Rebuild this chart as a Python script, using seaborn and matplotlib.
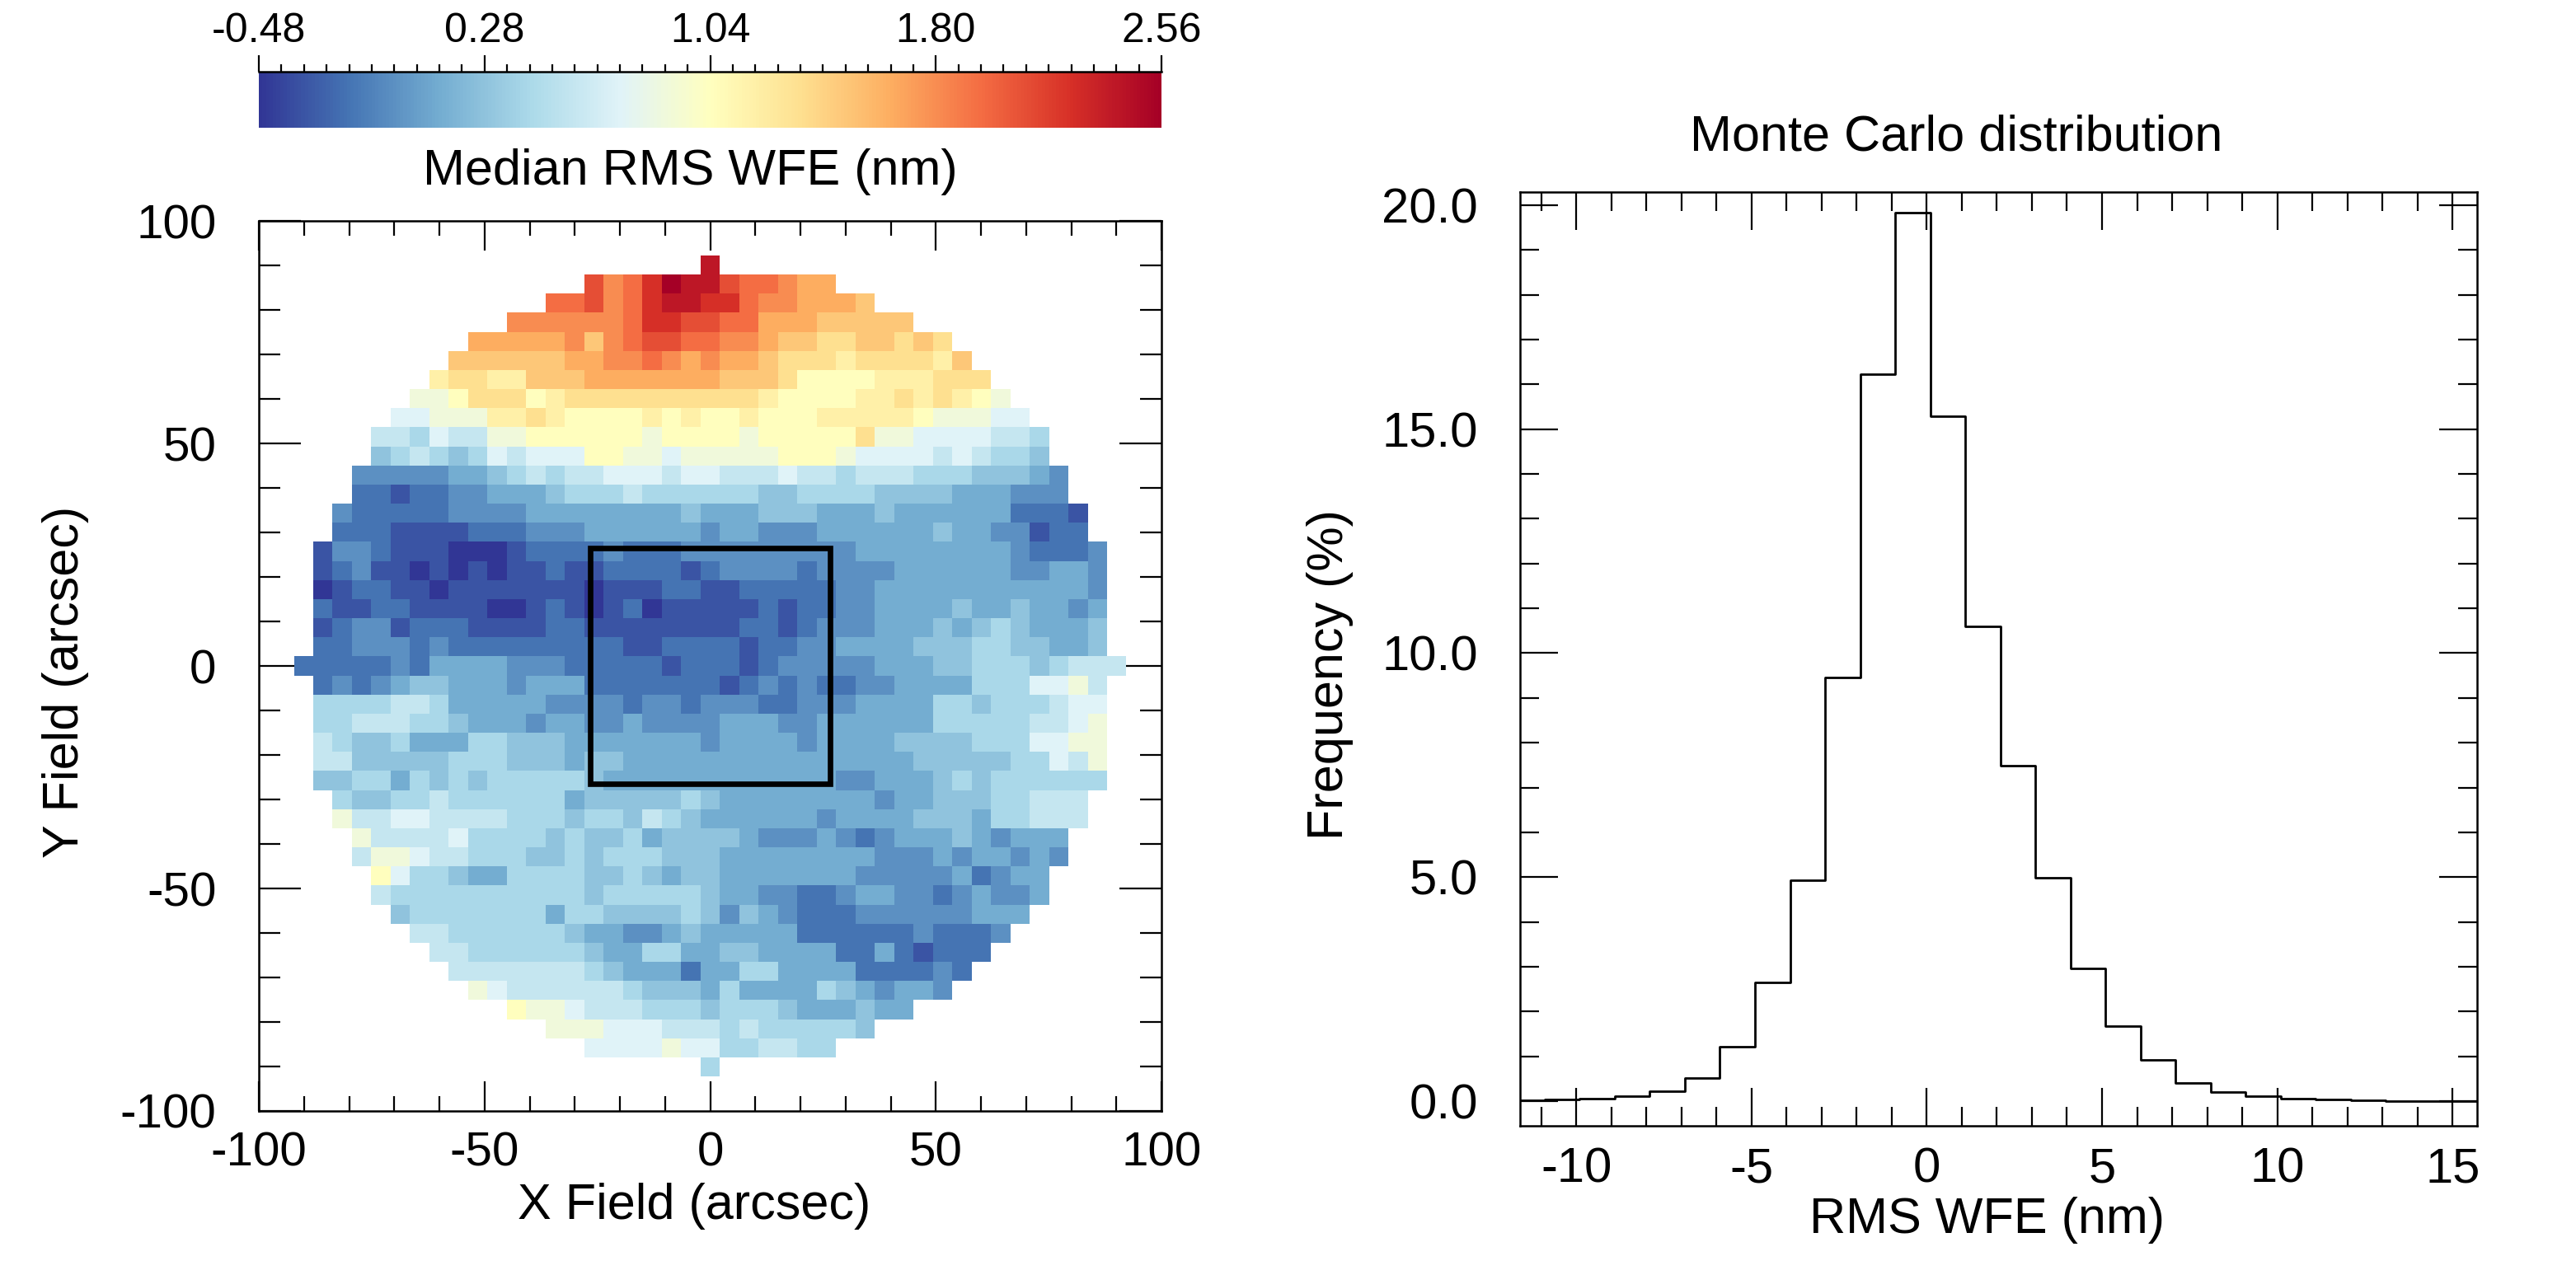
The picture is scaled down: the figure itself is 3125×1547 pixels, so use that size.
import numpy as np
import pandas as pd
import matplotlib
matplotlib.use("Agg")
import matplotlib.pyplot as plt
from matplotlib.patches import Rectangle
from matplotlib.ticker import FixedLocator, MultipleLocator, FormatStrFormatter
import seaborn as sns

sns.set_theme(style="white")
plt.rcParams["font.family"] = ["Liberation Sans", "DejaVu Sans"]
plt.rcParams["axes.unicode_minus"] = False
for k in ["text.color", "axes.labelcolor", "xtick.color", "ytick.color", "axes.edgecolor"]:
    plt.rcParams[k] = "black"

# ---------------- data ----------------
# Median RMS WFE map: each character is a colour level
# ('0' = -0.48 nm ... 'k' = 2.56 nm, 21 levels), '.' = no data.
wfe_min, wfe_max = -0.48, 2.56
wfe_codes = "0123456789abcdefghijk"
wfe_rows = [
    "j",
    "hfgikjjhggfee",
    "gghfgijjiigffeeed",
    "ffffffgiihhggeeeddddd",
    "eeeeefdfghhggffeddccddcdc",
    "ddddddeeffgfefeedcccbccccbd",
    "bccbbdddeeeeeeedddcaaaabbbccc",
    "99acccabccccccccccbaaaabbcbcba9",
    "88999bbcbaaaababaabaaabbbbba99988",
    "77687799aaaaaa9aaaa9aaaaac998888776",
    "56765687888aa99899999aaa98888787665",
    "3333344567677888788777877677766655543",
    "2212233444566676666665566665555444333",
    "322222333344444444544455544454444442221",
    "222111122233344444434433344444454433122",
    "13321110001222232223333333334444444432223",
    "12311010101121122221233332333344444433443",
    "01221101111111011122112222233444444444443",
    "21122111100121012011111212233444454454434",
    "12331222111122111111112212333444545654445",
    "22333232222222221122221223344445556655445",
    "2222232444433322222122212333334445566656777",
    "23234554443444222222212323223344446668897",
    "66667764444433332332333223334444665666788",
    "66777665444344334333344433444444666667789",
    "76556444665554444444344443444455556668899",
    "77555556665554554444444444444445555566879",
    "55664656566666544444444444433444565666666",
    "655667666666455555654444444434455566777",
    "977887777666566576544444434444555466777",
    "9777786666565564555543334323444543444",
    "7998776665565666555444444443334344343",
    "a8665446666556545544444443333342344",
    "76666666666566666544332234433234334",
    "566666664665555653543222333333444",
    "7766666654433454444422222232223",
    "77666666544664455444422421222",
    "777777765444244664444222232",
    "9877777765554644446543443",
    "a99877766656665444544",
    "99988877767666665",
    "8888988667766",
    "6",
]
grid_n = 43            # cells per side
cell_arcsec = 4.29     # cell size (arcsec)
box_half_arcsec = 26.5 # half size of the black square
cbar_ticks = [-0.48, 0.28, 1.04, 1.80, 2.56]
cbar_labels = ["-0.48", "0.28", "1.04", "1.80", "2.56"]
field_ticks = [-100, -50, 0, 50, 100]

# Monte Carlo histogram (bin edges, frequency in %)
hist_edges = [-12.9, -11.9, -10.9, -9.9, -8.9, -7.9, -6.9, -5.9, -4.9, -3.9,
              -2.9, -1.9, -0.9, 0.1, 1.1, 2.1, 3.1, 4.1, 5.1, 6.1,
              7.1, 8.1, 9.1, 10.1, 11.1, 12.1, 13.1, 14.1, 15.1, 16.1]
hist_freq = [0.01, 0.02, 0.03, 0.06, 0.11, 0.23, 0.52, 1.21, 2.65, 4.93,
             9.46, 16.22, 19.84, 15.28, 10.60, 7.49, 4.98, 2.97, 1.67, 0.92,
             0.40, 0.20, 0.11, 0.06, 0.03, 0.02, 0.01, 0.01, 0.01]

# ---------------- build table ----------------
grid = np.array([[np.nan if c == "." else wfe_min + (wfe_max - wfe_min) * wfe_codes.index(c) / 20.0
                  for c in row.center(grid_n, ".")] for row in wfe_rows])
half = grid_n * cell_arcsec / 2.0
centers = np.round(-half + cell_arcsec * (np.arange(grid_n) + 0.5), 2)
wfe_df = pd.DataFrame(grid, index=centers[::-1], columns=centers)

def to_col(a):
    return (a + half) / cell_arcsec

def to_row(a):
    return (half - a) / cell_arcsec

hist_centers = [(hist_edges[i] + hist_edges[i + 1]) / 2 for i in range(len(hist_freq))]

# ---------------- figure ----------------
fig = plt.figure(figsize=(15.625, 7.735), dpi=200)
ax = fig.add_axes([0.10048, 0.12864, 0.3504, 0.6981])
cax = fig.add_axes([0.10048, 0.89981, 0.3504, 0.04396])

sns.heatmap(wfe_df, ax=ax, cmap="RdYlBu_r", vmin=wfe_min, vmax=wfe_max,
            cbar_ax=cax, cbar_kws={"orientation": "horizontal"},
            xticklabels=False, yticklabels=False)
ax.set_facecolor("white")
ax.set_xlim(to_col(-100), to_col(100))
ax.set_ylim(to_row(-100), to_row(100))
ax.set_xticks([to_col(v) for v in field_ticks])
ax.set_xticklabels([str(v) for v in field_ticks])
ax.set_yticks([to_row(v) for v in field_ticks])
ax.set_yticklabels([str(v) for v in field_ticks])
ax.set_xticks([to_col(v) for v in range(-100, 101, 10)], minor=True)
ax.set_yticks([to_row(v) for v in range(-100, 101, 10)], minor=True)
ax.set_xlabel("")
ax.set_ylabel("")
for s in ax.spines.values():
    s.set_visible(True)
    s.set_color("black")
    s.set_linewidth(0.9)
ax.tick_params(which="both", direction="in", top=True, right=True, bottom=True, left=True,
               color="black", width=0.8)
ax.tick_params(axis="x", which="major", length=13, pad=9, labelsize=21)
ax.tick_params(axis="x", which="minor", length=6.5)
ax.tick_params(axis="y", which="major", length=18.4, pad=18.5, labelsize=21)
ax.tick_params(axis="y", which="minor", length=9.4)
for lab in ax.get_yticklabels():
    lab.set_rotation(0)

ax.add_patch(Rectangle((to_col(-box_half_arcsec), to_row(box_half_arcsec)),
                       2 * box_half_arcsec / cell_arcsec, 2 * box_half_arcsec / cell_arcsec,
                       fill=False, ec="black", lw=2.4, zorder=5))

# colorbar
cbar = ax.collections[0].colorbar
cbar.set_ticks(cbar_ticks)
cbar.set_ticklabels(cbar_labels)
cax.xaxis.set_minor_locator(FixedLocator(np.linspace(wfe_min, wfe_max, 41)))
cbar.outline.set_visible(False)
cax.spines["top"].set_visible(True)
cax.spines["top"].set_color("black")
cax.spines["top"].set_linewidth(0.9)
cax.tick_params(axis="x", which="both", top=True, bottom=False, labeltop=True, labelbottom=False,
                direction="out", color="black", width=0.8)
cax.tick_params(axis="x", which="major", length=7.2, pad=2, labelsize=18)
cax.tick_params(axis="x", which="minor", length=3.4)

fig.text(0.2678, 0.8655, "Median RMS WFE (nm)", ha="center", va="center", fontsize=22)
fig.text(0.2694, 0.0537, "X Field (arcsec)", ha="center", va="center", fontsize=22)
fig.text(0.0256, 0.4654, "Y Field (arcsec)", ha="center", va="center", rotation=90, fontsize=22)

# histogram
ax2 = fig.add_axes([0.5901, 0.1170, 0.3715, 0.7327])
sns.histplot(x=hist_centers, weights=hist_freq, bins=hist_edges, element="step",
             fill=False, color="black", linewidth=1.0, ax=ax2)
ax2.set_xlim(-11.6, 15.7)
ax2.set_ylim(-0.55, 20.3)
ax2.xaxis.set_major_locator(MultipleLocator(5))
ax2.xaxis.set_minor_locator(MultipleLocator(1))
ax2.yaxis.set_major_locator(MultipleLocator(5))
ax2.yaxis.set_minor_locator(MultipleLocator(1))
ax2.yaxis.set_major_formatter(FormatStrFormatter("%.1f"))
ax2.set_xlabel("")
ax2.set_ylabel("")
for s in ax2.spines.values():
    s.set_visible(True)
    s.set_color("black")
    s.set_linewidth(0.9)
ax2.tick_params(which="both", direction="in", top=True, right=True, bottom=True, left=True,
                color="black", width=0.8)
ax2.tick_params(which="major", length=16.5)
ax2.tick_params(which="minor", length=8.3)
ax2.tick_params(axis="x", which="major", pad=9, labelsize=21.5)
ax2.tick_params(axis="y", which="major", pad=18.4, labelsize=21.5)

fig.text(0.7594, 0.892, "Monte Carlo distribution", ha="center", va="center", fontsize=22)
fig.text(0.7715, 0.0433, "RMS WFE (nm)", ha="center", va="center", fontsize=22)
fig.text(0.5162, 0.4706, "Frequency (%)", ha="center", va="center", rotation=90, fontsize=22)

fig.savefig("out.png", dpi=200, facecolor="white")
